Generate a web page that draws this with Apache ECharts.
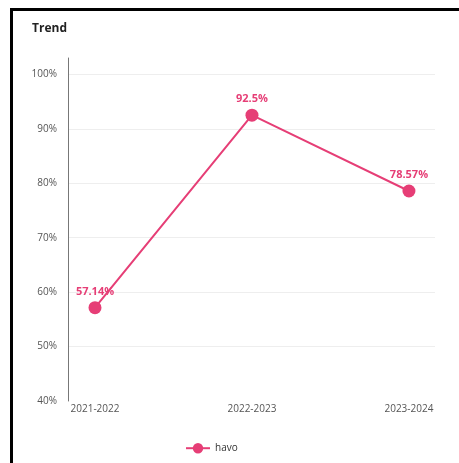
<!DOCTYPE html>
<html>
<head>
<meta charset="utf-8">
<script src="https://cdn.jsdelivr.net/npm/echarts@6/dist/echarts.min.js"></script>
<style>
  html, body { margin: 0; padding: 0; background: #fff; overflow: hidden; }
  #frame { position: absolute; left: 10px; top: 8px; width: 600px; height: 600px;
           border-left: 3px solid #000; border-top: 3px solid #000; box-sizing: border-box; }
  #chart { position: absolute; left: 0; top: 0; width: 459px; height: 463px; }
</style>
</head>
<body>
<div id="frame"></div>
<div id="chart"></div>
<script>
// School years and pass rate (%) for the "havo" track
const categories = ['2021-2022', '2022-2023', '2023-2024'];
const seriesName = 'havo';
const values = [57.14, 92.5, 78.57];
const yTicks = [40, 50, 60, 70, 80, 90, 100];
const gridTicks = [50, 60, 70, 80, 90, 100];

const font = '"Open Sans", Lato, sans-serif';
const pink = '#e63e76';

const chart = echarts.init(document.getElementById('chart'), null, { renderer: 'canvas' });
chart.setOption({
  animation: false,
  title: {
    text: 'Trend', left: 27, top: 18,
    textStyle: { fontFamily: font, fontSize: 12, fontWeight: 'bold', color: '#222' }
  },
  grid: { left: 68, right: 24, top: 58, bottom: 62, containLabel: false },
  xAxis: {
    type: 'value', min: -0.172, max: 2.166,
    axisLine: { show: false }, axisTick: { show: false }, splitLine: { show: false },
    axisLabel: {
      customValues: categories.map((_, i) => i),
      formatter: v => categories[Math.round(v)],
      margin: 3, fontFamily: font, fontSize: 10, color: '#555'
    }
  },
  yAxis: {
    type: 'value', min: 40, max: 103,
    axisLine: { show: true, onZero: false, lineStyle: { color: '#777', width: 1 } },
    axisTick: { show: false, customValues: gridTicks },
    splitLine: { show: true, lineStyle: { color: '#eeeeee', width: 1 } },
    axisLabel: {
      customValues: yTicks, formatter: '{value}%',
      margin: 11, fontFamily: font, fontSize: 10, color: '#555'
    }
  },
  legend: {
    left: 180, top: 438, itemWidth: 24, itemHeight: 13, itemGap: 6,
    textStyle: { fontFamily: font, fontSize: 10, color: '#333' },
    data: [seriesName]
  },
  series: [{
    name: seriesName, type: 'line',
    data: values.map((v, i) => [i, v]),
    symbol: 'circle', symbolSize: 13,
    lineStyle: { color: pink, width: 2 },
    itemStyle: { color: pink },
    label: {
      show: true, position: 'top', distance: 4,
      formatter: p => p.value[1] + '%',
      fontFamily: font, fontSize: 11, fontWeight: 'bold', color: pink
    }
  }]
});
</script>
</body>
</html>
